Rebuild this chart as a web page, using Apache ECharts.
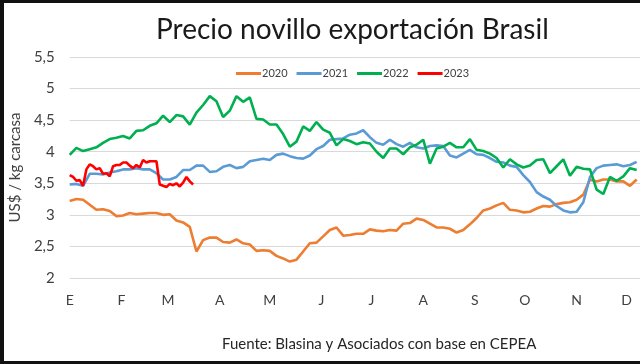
<!DOCTYPE html>
<html>
<head>
<meta charset="utf-8">
<script src="https://cdn.jsdelivr.net/npm/echarts@6/dist/echarts.min.js"></script>
<style>
html,body{margin:0;padding:0;background:#fff;}
#c{width:640px;height:364px;}
</style>
</head>
<body>
<div id="c"></div>
<script>
// ---- data ----
const monthLabels = ['E','F','M','A','M','J','J','A','S','O','N','D'];
const monthStartDays = [0,31,59,90,120,151,181,212,243,273,304,334];
const yTicks = [2,2.5,3,3.5,4,4.5,5,5.5];
const seriesNames = ['2020','2021','2022','2023'];
const stepMain = 4;   // days between samples, 2020-2022
const step2023 = 2;   // days between samples, 2023

const v2020 = [3.22,3.25,3.24,3.16,3.08,3.09,3.06,2.98,2.99,3.03,3.01,3.02,3.03,3.03,3.00,3.01,2.91,2.88,2.81,2.42,
2.60,2.64,2.64,2.57,2.56,2.61,2.55,2.53,2.43,2.44,2.43,2.35,2.31,2.26,2.29,2.42,2.55,2.56,2.66,2.76,
2.80,2.67,2.68,2.70,2.70,2.77,2.75,2.74,2.76,2.75,2.86,2.87,2.94,2.92,2.86,2.80,2.80,2.78,2.72,2.76,
2.85,2.95,3.07,3.10,3.15,3.19,3.08,3.07,3.04,3.05,3.10,3.14,3.13,3.17,3.19,3.20,3.24,3.32,3.56,3.53,
3.56,3.56,3.53,3.53,3.46,3.56];

const v2021 = [3.48,3.49,3.46,3.65,3.65,3.64,3.67,3.69,3.72,3.72,3.74,3.72,3.72,3.66,3.56,3.56,3.60,3.71,3.71,3.78,
3.78,3.68,3.69,3.76,3.79,3.74,3.76,3.85,3.87,3.89,3.87,3.95,3.97,3.93,3.90,3.89,3.94,4.04,4.09,4.19,
4.20,4.21,4.27,4.29,4.34,4.23,4.14,4.11,4.19,4.12,4.08,4.14,4.07,4.05,4.09,4.10,4.09,3.94,3.91,3.97,
4.03,3.96,3.95,3.90,3.84,3.83,3.78,3.76,3.63,3.52,3.36,3.29,3.24,3.14,3.07,3.04,3.05,3.20,3.60,3.74,
3.78,3.79,3.80,3.77,3.79,3.84];

const v2022 = [3.95,4.06,4.01,4.04,4.07,4.14,4.20,4.22,4.25,4.21,4.33,4.34,4.41,4.45,4.57,4.47,4.58,4.56,4.43,4.62,
4.74,4.88,4.80,4.55,4.65,4.88,4.79,4.86,4.52,4.51,4.43,4.43,4.28,4.08,4.16,4.40,4.33,4.47,4.35,4.30,
4.10,4.20,4.17,4.12,4.15,4.13,4.00,3.90,4.05,4.05,3.96,4.07,4.11,4.19,3.81,4.05,4.08,4.14,4.07,4.07,
4.20,4.03,4.01,3.97,3.90,3.75,3.88,3.80,3.75,3.78,3.87,3.88,3.66,3.77,3.88,3.62,3.76,3.73,3.72,3.40,
3.33,3.60,3.54,3.61,3.74,3.71];

const v2023 = [3.63,3.60,3.54,3.55,3.46,3.72,3.80,3.77,3.72,3.74,3.65,3.66,3.61,3.77,3.79,3.79,3.83,3.83,3.78,3.74,
3.79,3.75,3.87,3.83,3.85,3.85,3.85,3.48,3.46,3.44,3.49,3.47,3.50,3.45,3.51,3.60,3.53,3.48];

const titleText = 'Precio novillo exportación Brasil';
const yAxisTitle = 'US$ / kg carcasa';
const sourceText = 'Fuente: Blasina y Asociados con base en CEPEA';

// ---- chart ----
const colors = ['#ED7D31','#5B9BD5','#00B050','#FF0000'];
const FONT = 'Lato, "Open Sans", sans-serif';
function pairs(vals, step){ return vals.map((v,i)=>[i*step, v]); }

const chart = echarts.init(document.getElementById('c'), null, {renderer:'canvas'});
const seriesVals = [v2020, v2021, v2022, v2023];
const seriesSteps = [stepMain, stepMain, stepMain, step2023];

chart.setOption({
  animation:false,
  backgroundColor:'#ffffff',
  color:colors,
  title:[
    {text:titleText, left:151, top:11,
     textStyle:{fontFamily:FONT, fontSize:28, fontWeight:'normal', color:'#1a1a1a'}},
    {text:sourceText, left:217, top:332,
     textStyle:{fontFamily:FONT, fontSize:15, fontWeight:'normal', color:'#262626'}}
  ],
  legend:{
    data:seriesNames, left:231, top:63, icon:'rect', itemWidth:25, itemHeight:3, itemGap:9,
    textStyle:{fontFamily:FONT, fontSize:11, color:'#404040', padding:[0,0,0,-4]}
  },
  grid:{left:67, right:0, top:57, bottom:86, containLabel:false},
  xAxis:{
    type:'value', min:0, max:342,
    axisLine:{show:false}, axisTick:{show:false}, splitLine:{show:false},
    axisLabel:{
      customValues:monthStartDays,
      formatter:function(v){ const i = monthStartDays.indexOf(v); return i>=0 ? monthLabels[i] : ''; },
      fontFamily:FONT, fontSize:14, color:'#404040', margin:15
    }
  },
  yAxis:{
    type:'value', min:yTicks[0], max:yTicks[yTicks.length-1], interval:0.5,
    name:yAxisTitle, nameLocation:'middle', nameGap:46,
    nameTextStyle:{fontFamily:FONT, fontSize:15, color:'#404040'},
    axisLine:{show:false}, axisTick:{show:false},
    splitLine:{lineStyle:{color:'#D9D9D9', width:1}},
    axisLabel:{fontFamily:FONT, fontSize:15, color:'#404040', margin:15,
      formatter:function(v){ return String(v).replace('.', ','); }}
  },
  series: seriesNames.map((n,i)=>({
    name:n, type:'line', showSymbol:false, symbol:'none', smooth:false,
    data:pairs(seriesVals[i], seriesSteps[i]),
    lineStyle:{width:2.6, color:colors[i]}, itemStyle:{color:colors[i]},
    z: i===3 ? 5 : 2
  })),
  graphic:[
    {type:'rect', left:0, top:0, shape:{width:4, height:364}, style:{fill:'#111'}, z:100},
    {type:'rect', left:0, top:0, shape:{width:640, height:3}, style:{fill:'#111'}, z:100},
    {type:'rect', left:0, top:361, shape:{width:640, height:3}, style:{fill:'#111'}, z:100}
  ]
});
</script>
</body>
</html>
